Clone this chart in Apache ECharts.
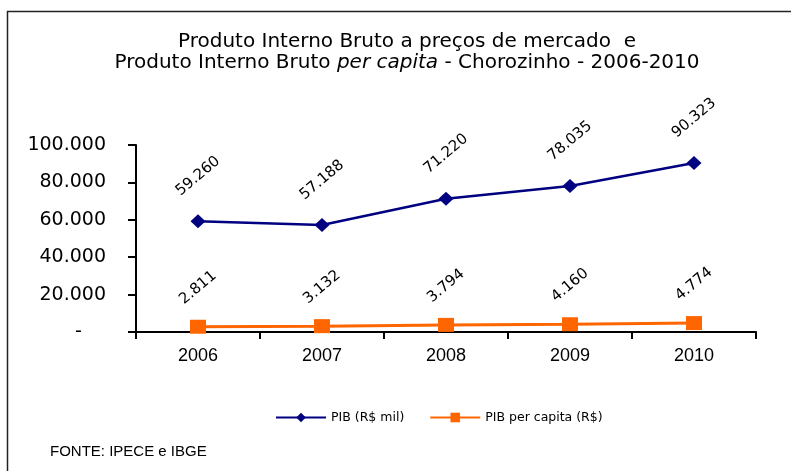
<!DOCTYPE html>
<html>
<head>
<meta charset="utf-8">
<script src="https://cdn.jsdelivr.net/npm/echarts@6/dist/echarts.min.js"></script>
<style>html,body{margin:0;padding:0;background:#fff}#c{width:791px;height:471px}</style>
</head>
<body>
<div id="c"></div>
<script>
const categories = ['2006', '2007', '2008', '2009', '2010'];
const pib = [59260, 57188, 71220, 78035, 90323];
const pibPerCapita = [2811, 3132, 3794, 4160, 4774];
const seriesNames = ['PIB (R$ mil)', 'PIB per capita (R$)'];
const yTicks = { min: 0, max: 100000, interval: 20000 };

function fmt(v) {
  return String(Math.round(v)).replace(/\B(?=(\d{3})+(?!\d))/g, '.');
}

const chart = echarts.init(document.getElementById('c'));
chart.setOption({
  animation: false,
  backgroundColor: '#fff',
  title: {
    text: 'Produto Interno Bruto a preços de mercado  e\n{n|Produto Interno Bruto }{i|per capita}{n| - Chorozinho - 2006-2010}',
    left: 402,
    top: 26,
    textAlign: 'center',
    textStyle: {
      fontFamily: 'DejaVu Sans',
      fontSize: 20,
      fontWeight: 'normal',
      color: '#000',
      lineHeight: 21,
      rich: {
        n: { fontFamily: 'DejaVu Sans', fontSize: 20, color: '#000', lineHeight: 21 },
        i: { fontFamily: 'DejaVu Sans', fontSize: 20, fontStyle: 'italic', color: '#000', lineHeight: 21 }
      }
    }
  },
  grid: { left: 136, right: 35, top: 145, bottom: 139, containLabel: false },
  legend: {
    left: 270,
    top: 406,
    itemWidth: 50,
    itemHeight: 12,
    itemGap: 25,
    textStyle: { fontFamily: 'DejaVu Sans', fontSize: 12.5, color: '#000' },
    data: seriesNames
  },
  xAxis: {
    type: 'category',
    data: categories,
    boundaryGap: true,
    axisLine: { lineStyle: { color: '#000', width: 2 } },
    axisTick: { show: true, length: 7, lineStyle: { color: '#000', width: 2 } },
    axisLabel: { fontFamily: 'Liberation Sans', fontSize: 18, color: '#000', margin: 15 },
    splitLine: { show: false }
  },
  yAxis: {
    type: 'value',
    min: yTicks.min,
    max: yTicks.max,
    interval: yTicks.interval,
    axisLine: { show: true, lineStyle: { color: '#000', width: 2 } },
    axisTick: { show: true, length: 8, lineStyle: { color: '#000', width: 2 } },
    axisLabel: {
      fontFamily: 'DejaVu Sans',
      fontSize: 19,
      color: '#000',
      margin: 30,
      formatter: v => v === 0 ? '-    ' : fmt(v)
    },
    splitLine: { show: false }
  },
  graphic: [
    { type: 'line', shape: { x1: 7, y1: 11.5, x2: 791, y2: 11.5 }, style: { stroke: '#222', lineWidth: 1.5 } },
    { type: 'line', shape: { x1: 7.5, y1: 11, x2: 7.5, y2: 471 }, style: { stroke: '#222', lineWidth: 1.5 } },
    { type: 'text', left: 50, top: 444, style: { text: 'FONTE: IPECE e IBGE', fontFamily: 'Liberation Sans', fontSize: 15, fill: '#000' } }
  ],
  series: [
    {
      name: seriesNames[0],
      type: 'line',
      data: pib,
      symbol: 'diamond',
      symbolSize: [15, 14],
      color: '#000080',
      lineStyle: { color: '#000080', width: 2.5 },
      itemStyle: { color: '#000080' },
      label: {
        show: true,
        position: 'top',
        distance: 38,
        rotate: 40,
        align: 'center',
        verticalAlign: 'middle',
        fontFamily: 'DejaVu Sans',
        fontSize: 15,
        color: '#000',
        formatter: p => fmt(p.value)
      }
    },
    {
      name: seriesNames[1],
      type: 'line',
      data: pibPerCapita,
      symbol: 'rect',
      symbolSize: [16, 14],
      color: '#FF6600',
      lineStyle: { color: '#FF6600', width: 3 },
      itemStyle: { color: '#FF6600' },
      label: {
        show: true,
        position: 'top',
        distance: 32,
        rotate: 40,
        align: 'center',
        verticalAlign: 'middle',
        fontFamily: 'DejaVu Sans',
        fontSize: 15,
        color: '#000',
        formatter: p => fmt(p.value)
      }
    }
  ]
});
</script>
</body>
</html>
